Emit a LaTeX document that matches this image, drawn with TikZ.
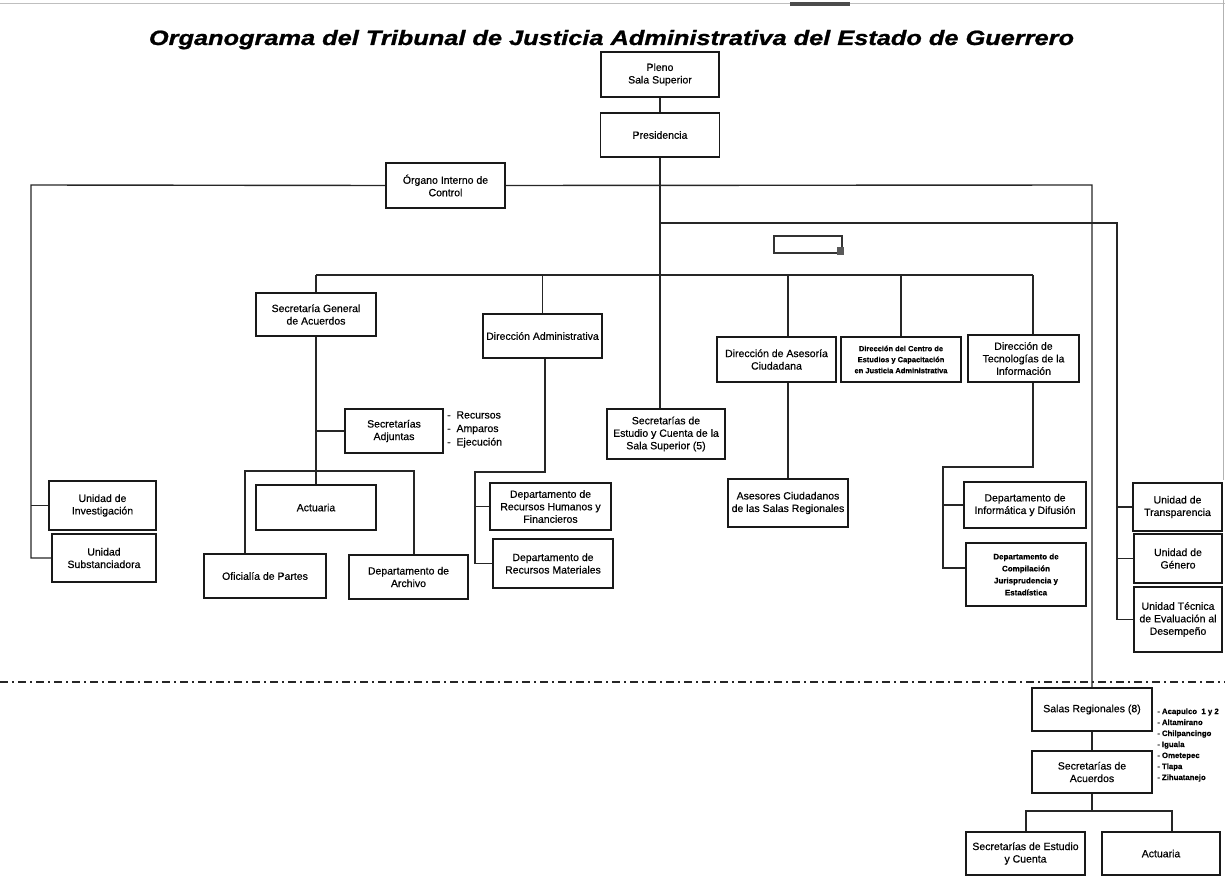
\documentclass[tikz,border=0pt]{standalone}
\usepackage{fontspec}
\usepackage{graphicx}
\setmainfont{Liberation Sans}[FakeBold=0.4]
\newfontfamily\titlefont[FakeBold=1]{Liberation Sans Bold Italic}
\begin{document}
\begin{tikzpicture}[x=1pt,y=-1pt,
  box/.style={draw=black!90, line width=1.6pt, fill=white, align=center, inner sep=1pt,
    text=black, font=\fontsize{10.5}{12.5}\selectfont},
  wh/.style 2 args={minimum width=#1pt, minimum height=#2pt},
  smallbold/.style={font=\fontsize{7.5}{11}\selectfont\bfseries},
  conn/.style={draw=black!85, line width=1.4pt},
  listtxt/.style={align=left, inner sep=0pt, anchor=west, text=black},
]
\useasboundingbox (0,0) rectangle (1225,877);
% scan edges
\draw[black!25, line width=0.8pt] (0,3) -- (1225,3);
\fill[black!70] (790,2) rectangle (850,6);
\draw[black!30, line width=0.8pt] (1223,0) -- (1223,480);

% title
\node[anchor=base, inner sep=0pt, text=black] (title) at (611.5,45)
  {\resizebox{925pt}{15pt}{\titlefont Organograma del Tribunal de Justicia Administrativa del Estado de Guerrero}};

% nodes
\node[box, wh={118}{45}] (pleno) at (660,74.5) {Pleno\\Sala Superior};
\node[box, wh={119}{44}] (pres) at (660,135) {Presidencia};
\node[box, wh={119}{45}] (organo) at (445.5,185.5) {Órgano Interno de\\Control};
\node[box, wh={120}{43}] (secgen) at (316,314.5) {Secretaría General\\de Acuerdos};
\node[box, wh={119}{44}] (dadmin) at (542.5,336) {Dirección Administrativa};
\node[box, wh={118}{50}] (secest) at (666,434) {Secretarías de\\Estudio y Cuenta de la\\Sala Superior (5)};
\node[box, wh={119}{45}] (dasesor) at (776.5,359.5) {Dirección de Asesoría\\Ciudadana};
\node[box, smallbold, wh={120}{45}] (dcentro) at (901,359.5) {Dirección del Centro de\\Estudios y Capacitación\\en Justicia Administrativa};
\node[box, wh={111}{47}] (dtec) at (1023.5,358.5) {Dirección de\\Tecnologías de la\\Información};
\node[box, wh={98}{44}] (sadj) at (394,431) {Secretarías\\Adjuntas};
\node[listtxt, font=\fontsize{10.5}{13.5}\selectfont] (sadjlist) at (447,429.5) {-\ \ Recursos\\-\ \ Amparos\\-\ \ Ejecución};
\node[box, wh={107}{49}] (uinv) at (102.5,505.5) {Unidad de\\Investigación};
\node[box, wh={104}{48}] (usub) at (104,558) {Unidad\\Substanciadora};
\node[box, wh={120}{45}] (actuaria) at (316,507.5) {Actuaria};
\node[box, wh={122}{44}] (ofic) at (265,576) {Oficialía de Partes};
\node[box, wh={119}{44}] (archivo) at (408.5,577) {Departamento de\\Archivo};
\node[box, wh={121}{47}] (drh) at (550.5,506.5) {Departamento de\\Recursos Humanos y\\Financieros};
\node[box, wh={120}{49}] (drm) at (553,563.5) {Departamento de\\Recursos Materiales};
\node[box, wh={120}{48}] (asesores) at (788,503) {Asesores Ciudadanos\\de las Salas Regionales};
\node[box, wh={122}{46}] (dinf) at (1025,505) {Departamento de\\Informática y Difusión};
\node[box, wh={120}{63}, font=\fontsize{8}{12}\selectfont\bfseries] (dcomp) at (1026,574.5) {Departamento de\\Compilación\\Jurisprudencia y\\Estadística};
\node[box, wh={89}{48}] (utrans) at (1177.5,507) {Unidad de\\Transparencia};
\node[box, wh={88}{49}] (ugen) at (1178,558.5) {Unidad de\\Género};
\node[box, wh={88}{65}] (utec) at (1178,619.5) {Unidad Técnica\\de Evaluación al\\Desempeño};
\node[box, wh={120}{43}] (salas) at (1092,709.5) {Salas Regionales (8)};
\node[listtxt, font=\fontsize{7.8}{11}\selectfont\bfseries] (salaslist) at (1157,745) {- Acapulco\ \ 1 y 2\\- Altamirano\\- Chilpancingo\\- Iguala\\- Ometepec\\- Tlapa\\- Zihuatanejo};
\node[box, wh={120}{42}] (secac) at (1092,772) {Secretarías de\\Acuerdos};
\node[box, wh={119}{43}] (secest2) at (1025.5,853.5) {Secretarías de Estudio\\y Cuenta};
\node[box, wh={118}{43}] (act2) at (1161,853.5) {Actuaria};

% empty small box (as printed)
\draw[line width=1.6pt, draw=black!80] (774,236) rectangle (842,253);
\fill[black!65] (837,247) rectangle (844,255);

% dash-dot separator
\draw[black!85, line width=1.4pt, dash pattern=on 8pt off 4pt on 2pt off 4pt] (0,682) -- (1225,682);

% coordinates
\coordinate (oL) at (31,185);
\coordinate (oR) at (1092,185);
\coordinate (u0) at (660,223);
\coordinate (u1) at (1117,223);
\coordinate (m0) at (316,275);
\coordinate (m1) at (1033,275);
\coordinate (ax) at (788,275);
\coordinate (t1) at (1033,467);
\coordinate (t2) at (943,467);
\coordinate (t3) at (943,568);
\coordinate (ob1) at (245,471);
\coordinate (ob2) at (414,471);
\coordinate (da1) at (545,472);
\coordinate (da2) at (475,472);
\coordinate (bb1) at (1026,811);
\coordinate (bb2) at (1172,811);

% connectors
\draw[conn] (pleno.south) -- (pres.north);
\draw[conn] (pres.south) -- (pres.south |- secest.north);
\draw[conn] (organo.west) -- (oL) -- (oL |- usub.west) -- (usub.west);
\draw[conn] (oL |- uinv.west) -- (uinv.west);
\draw[conn] (organo.east) -- (oR) -- (salas.north);
\draw[conn] (salas.south) -- (secac.north);
\draw[conn] (secac.south) -- (secac.south |- bb1);
\draw[conn] (bb1 |- secest2.north) -- (bb1) -- (bb2) -- (bb2 |- act2.north);
\draw[conn] (u0) -- (u1) -- (u1 |- utec.west) -- (utec.west);
\draw[conn] (u1 |- utrans.west) -- (utrans.west);
\draw[conn] (u1 |- ugen.west) -- (ugen.west);
\draw[conn] (m0) -- (m1);
\draw[conn] (m0) -- (secgen.north);
\draw[conn] (dadmin.north |- m0) -- (dadmin.north);
\draw[conn] (ax) -- (ax |- dasesor.north);
\draw[conn] (ax |- dasesor.south) -- (asesores.north);
\draw[conn] (dcentro.north |- m0) -- (dcentro.north);
\draw[conn] (m1) -- (m1 |- dtec.north);
\draw[conn] (m1 |- dtec.south) -- (t1) -- (t2) -- (t3) -- (t3 -| dcomp.west);
\draw[conn] (t2 |- dinf.west) -- (dinf.west);
\draw[conn] (secgen.south) -- (actuaria.north);
\draw[conn] (secgen.south |- sadj.west) -- (sadj.west);
\draw[conn] (ob1 |- ofic.north) -- (ob1) -- (ob2) -- (ob2 |- archivo.north);
\draw[conn] (da1 |- dadmin.south) -- (da1) -- (da2) -- (da2 |- drm.west) -- (drm.west);
\draw[conn] (da2 |- drh.west) -- (drh.west);
\end{tikzpicture}
\end{document}
